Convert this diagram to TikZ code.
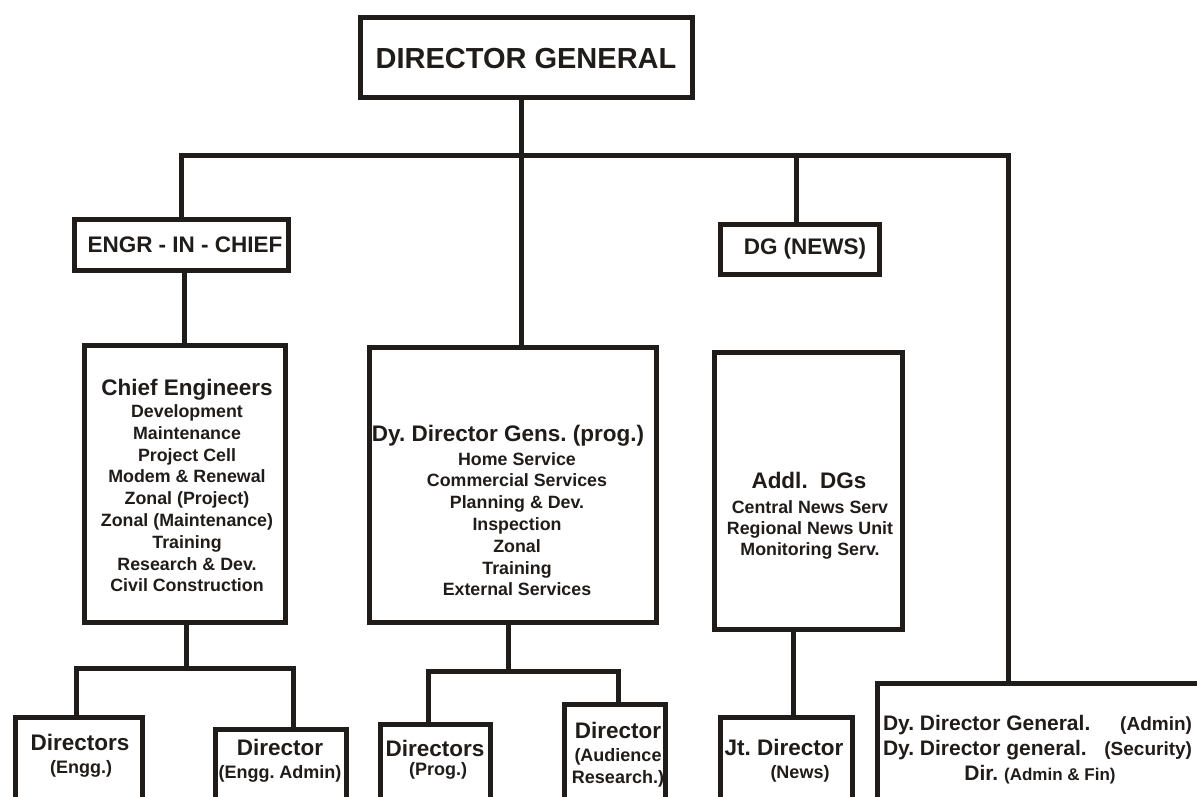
\documentclass[tikz,border=0pt]{standalone}
\usepackage{fontspec}
\setmainfont{Liberation Sans}
\definecolor{ink}{RGB}{32,28,26}
\newcommand\fsz[2]{\fontsize{#1}{#2}\selectfont}
\begin{document}
\frenchspacing
\begin{tikzpicture}[x=1pt,y=-1pt,
  box/.style={draw=ink,line width=5pt,inner sep=0pt,fill=white},
  conn/.style={draw=ink,line width=5pt},
  lbl/.style={inner sep=0pt,outer sep=0pt,text=ink,align=center},
  head/.style={lbl,anchor=base,font=\bfseries\fsz{22.5}{27}},
  sub/.style={lbl,anchor=base,font=\bfseries\fsz{18}{22}},
  list/.style={lbl,anchor=north,font=\bfseries\fsz{17.8}{21.8}},
  adml/.style={lbl,anchor=base,font=\bfseries\fsz{21}{25}},
]
\useasboundingbox (0,0) rectangle (1197,796);
\clip (0,0) rectangle (1197,796);
\fill[white] (0,0) rectangle (1197,796);

% boxes
\node[box,minimum width=332pt,minimum height=80pt] (dg) at (526.5,57.5) {};
\node[box,minimum width=214pt,minimum height=51pt] (eic) at (181.5,245) {};
\node[box,minimum width=159pt,minimum height=50pt] (dgn) at (800,249.5) {};
\node[box,minimum width=201pt,minimum height=277pt] (chief) at (185,484) {};
\node[box,minimum width=287pt,minimum height=275pt] (dy) at (513,485) {};
\node[box,minimum width=188pt,minimum height=277pt] (addl) at (808.5,491) {};
\node[box,minimum width=127pt,minimum height=112.5pt] (de) at (79,773.75) {};
\node[box,minimum width=131pt,minimum height=100.5pt] (dea) at (281,779.75) {};
\node[box,minimum width=110pt,minimum height=105.5pt] (dp) at (435.5,777.25) {};
\node[box,minimum width=101pt,minimum height=125.5pt] (da) at (615,767.25) {};
\node[box,minimum width=132pt,minimum height=112.5pt] (jt) at (786.5,773.75) {};
\node[box,minimum width=350pt,minimum height=146.5pt] (adm) at (1052.5,756.75) {};

% connector guide coordinates
\coordinate (bar) at (0,155);
\coordinate (cA) at (521,0);
\coordinate (cE) at (184,0);
\coordinate (cN) at (796,0);
\coordinate (cR) at (1008,0);
\coordinate (cJ) at (793,0);
\coordinate (j1) at (186,668);
\coordinate (j1l) at (76,668);
\coordinate (j1r) at (293,668);
\coordinate (j2) at (508,671);
\coordinate (j2l) at (428,671);
\coordinate (j2r) at (618,671);

% connectors
\draw[conn] (dg.south -| cA) -- (dy.north -| cA);
\draw[conn] (eic.north) -- (eic.north |- bar) -- (bar -| cR) -- (adm.north -| cR);
\draw[conn] (dgn.north -| cN) -- (bar -| cN);
\draw[conn] (eic.south -| cE) -- (chief.north -| cE);
\draw[conn] (chief.south -| j1) -- (j1);
\draw[conn] (de.north -| j1l) -- (j1l) -- (j1r) -- (dea.north -| j1r);
\draw[conn] (dy.south -| j2) -- (j2);
\draw[conn] (dp.north -| j2l) -- (j2l) -- (j2r) -- (da.north -| j2r);
\draw[conn] (addl.south -| cJ) -- (jt.north -| cJ);

% texts
\node[lbl,anchor=base,font=\bfseries\fsz{29}{31}] (tdg) at (526,68.5) {DIRECTOR GENERAL};
\node[head] (teic) at (185,252.7) {ENGR - IN - CHIEF};
\node[head] (tdgn) at (805,254) {DG (NEWS)};

\node[head] (tchiefh) at (187,395) {Chief Engineers};
\node[list] (tchiefl) at (187,404.5) {Development\\Maintenance\\Project Cell\\Modem \& Renewal\\Zonal (Project)\\Zonal (Maintenance)\\Training\\Research \& Dev.\\Civil Construction};

\node[head] (tdyh) at (508,441.7) {Dy. Director Gens. (prog.)};
\node[list] (tdyl) at (517,452.2) {Home Service\\Commercial Services\\Planning \& Dev.\\Inspection\\Zonal\\Training\\External Services};

\node[head] (taddlh) at (809,488.3) {Addl.\ \ DGs};
\node[list,font=\bfseries\fsz{17.8}{20.85}] (taddll) at (810,500.5) {Central News Serv\\Regional News Unit\\Monitoring Serv.};

\node[head] (tde1) at (80,750.7) {Directors};
\node[sub] (tde2) at (81,773.3) {(Engg.)};
\node[head] (tdea1) at (280,755) {Director};
\node[sub] (tdea2) at (280,778.3) {(Engg. Admin)};
\node[head] (tdp1) at (435,756.7) {Directors};
\node[sub] (tdp2) at (438,775) {(Prog.)};
\node[head] (tda1) at (618,738.3) {Director};
\node[sub] (tda2) at (618,761.7) {(Audience};
\node[sub] (tda3) at (618,783.3) {Research.)};
\node[head] (tjt1) at (784,755) {Jt. Director};
\node[sub] (tjt2) at (800,778.3) {(News)};

\node[adml] (tadm1) at (1037.5,730) {\makebox[309pt]{Dy. Director General.\hfill{\fsz{19}{20}(Admin)}}};
\node[adml] (tadm2) at (1037.5,755) {\makebox[309pt]{Dy. Director general.\hfill{\fsz{19}{20}(Security)}}};
\node[adml] (tadm3) at (1040,780) {Dir. {\fsz{17}{20}(Admin \& Fin)}};
\end{tikzpicture}
\end{document}
